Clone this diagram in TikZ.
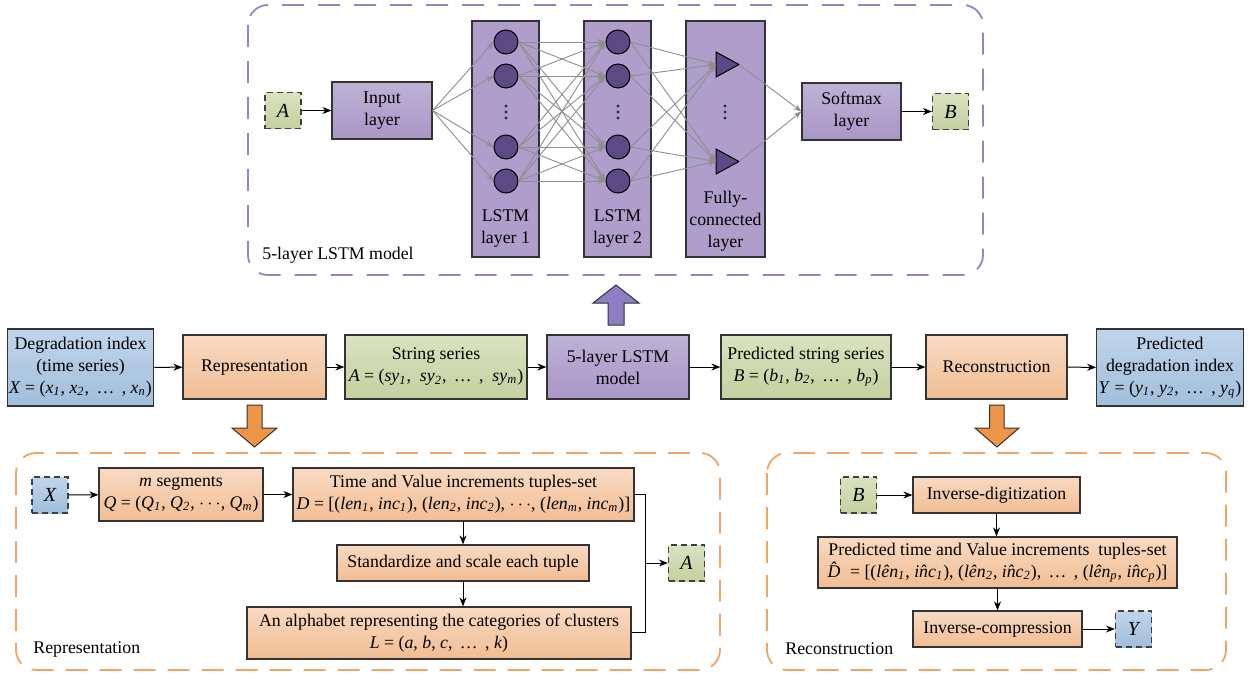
\documentclass[tikz,border=0pt]{standalone}
\usepackage{fontspec}
\setmainfont{Liberation Serif}
\usetikzlibrary{arrows.meta,shapes.geometric}
\newcommand\ssub[1]{\textsubscript{\itshape #1}}
\newcommand\hl{\textit{l\^en}}
\newcommand\hi{\textit{i\^nc}}
\definecolor{pTop}{HTML}{BDB2D6}
\definecolor{pBot}{HTML}{A996C6}
\definecolor{oTop}{HTML}{F9DAC2}
\definecolor{oBot}{HTML}{F1BD93}
\definecolor{gTop}{HTML}{DAE2C0}
\definecolor{gBot}{HTML}{C3D09E}
\definecolor{bTop}{HTML}{C0D5EA}
\definecolor{bBot}{HTML}{A0BEDC}
\definecolor{pDash}{HTML}{9484C2}
\definecolor{oDash}{HTML}{F0A466}
\definecolor{neuron}{HTML}{5C4A86}
\definecolor{netgray}{HTML}{8E8E8E}
\definecolor{bigP}{HTML}{8F7DC4}
\definecolor{bigO}{HTML}{EE9648}
\tikzset{
  box/.style={draw=black!80, line width=0.6pt, inner sep=1pt, align=center, minimum width=#1},
  pbox/.style={box=#1, top color=pTop, bottom color=pBot},
  obox/.style={box=#1, top color=oTop, bottom color=oBot},
  gbox/.style={box=#1, top color=gTop, bottom color=gBot},
  bbox/.style={box=#1, top color=bTop, bottom color=bBot},
  dbox/.style={draw=black!75, line width=0.6pt, dash pattern=on 3pt off 2pt, minimum width=18pt, minimum height=18pt, inner sep=0pt, font=\rmfamily\itshape},
  col/.style={draw=black!80, line width=0.6pt, fill=pBot!70!pTop, minimum width=33.5pt, minimum height=118pt, inner sep=0pt},
  neu/.style={circle, draw=black, line width=0.5pt, fill=neuron, minimum size=12pt, inner sep=0pt},
  trishape/.style={draw=black, line width=0.5pt, fill=neuron, line join=miter},
  dotmark/.style={fill=black!85},
  arr/.style={-{Stealth[length=4.5pt,width=3.5pt]}, line width=0.5pt, black},
  net/.style={-{Stealth[length=4pt,width=3pt]}, line width=0.45pt, netgray},
  pframe/.style={draw=pDash, line width=0.9pt, dash pattern=on 11pt off 7pt, rounded corners=10pt},
  oframe/.style={draw=oDash, line width=0.9pt, dash pattern=on 11pt off 6pt, rounded corners=10pt},
  lbl/.style={anchor=west, inner sep=0pt},
}
\begin{document}
\begin{tikzpicture}[x=0.5pt,y=-0.5pt, font=\rmfamily\fontsize{8.9}{11}\selectfont]
\useasboundingbox (0,0) rectangle (1248,675);
% ---------- top frame ----------
\draw[pframe] (248,5) rectangle (983,275);
\node[lbl] (toplbl) at (262,255) {5-layer LSTM model};
\node[dbox, top color=gTop, bottom color=gBot] (Ain) at (283,110.5) {A};
\node[pbox=50pt, minimum height=28.5pt] (inp) at (382,110.5) {Input\\layer};
\node[col] (c1) at (505.5,139) {};
\node[col] (c2) at (617.5,139) {};
\node[col, minimum width=39.5pt] (c3) at (725.5,139) {};
\node[pbox=49.5pt, minimum height=28.5pt] (soft) at (851.5,111.5) {Softmax\\layer};
\node[dbox, top color=gTop, bottom color=gBot] (Bout) at (950.5,111.5) {B};
\node[align=center] (c1t) at (505.5,228.5) {LSTM\\layer 1};
\node[align=center] (c2t) at (617.5,228.5) {LSTM\\layer 2};
\node[align=center] (c3t) at (725.5,221.5) {Fully-\\connected\\layer};
\foreach \i/\y in {1/42,2/76,3/147,4/181}{
  \node[neu] (a\i) at (506,\y) {};
  \node[neu] (b\i) at (618,\y) {};
}
% vertical ellipses
\foreach \x in {506,618,725}{
  \foreach \y in {106,112,118}{\fill[dotmark] (\x,\y) circle (0.8pt);}
}
% triangles (fully-connected units)
\foreach \j/\y in {1/64.5,2/161.5}{
  \draw[trishape] (716,\y-12.5) -- (739,\y) -- (716,\y+12.5) -- cycle;
  \coordinate (t\j w) at (716,\y);
  \coordinate (t\j a) at (739,\y);
}
\foreach \i in {1,...,4}{\draw[net] (inp.east) -- (a\i.west);}
\foreach \i in {1,...,4}{\foreach \j in {1,...,4}{\draw[net] (a\i.east) -- (b\j.west);}}
\foreach \i in {1,...,4}{\foreach \j in {1,2}{\draw[net] (b\i.east) -- (t\j w);}}
\foreach \j in {1,2}{\draw[net] (t\j a) -- (soft.west);}
\draw[arr] (Ain) -- (inp);
\draw[arr] (soft) -- (Bout);
% ---------- middle row ----------
\node[bbox=71.5pt, minimum height=38.5pt] (deg) at (80.5,367.5) {Degradation index\\(time series)\\\textit{X} = (\textit{x}\ssub{1}, \textit{x}\ssub{2}, \,…\, , \textit{x}\ssub{n})};
\node[obox=71.5pt, minimum height=32pt] (rep) at (254.5,367) {Representation};
\node[gbox=91pt, minimum height=32pt] (str) at (436,367) {String series\\\textit{A} = (\textit{sy}\ssub{1},\ \ \textit{sy}\ssub{2}, \,…\, ,\ \ \textit{sy}\ssub{m})};
\node[pbox=71pt, minimum height=32pt] (lstm) at (618,367) {5-layer LSTM\\model};
\node[gbox=85pt, minimum height=32pt] (pstr) at (806,367) {Predicted string series\\\textit{B} = (\textit{b}\ssub{1}, \textit{b}\ssub{2}, \,…\, , \textit{b}\ssub{p})};
\node[obox=70.5pt, minimum height=32pt] (rec) at (996.5,367) {Reconstruction};
\node[bbox=71pt, minimum height=38.5pt] (pdeg) at (1170,367.5) {Predicted\\degradation index\\\textit{Y} = (\textit{y}\ssub{1}, \textit{y}\ssub{2}, \,…\, , \textit{y}\ssub{q})};
\draw[arr] (deg) -- (rep);
\draw[arr] (rep) -- (str);
\draw[arr] (str) -- (lstm);
\draw[arr] (lstm) -- (pstr);
\draw[arr] (pstr) -- (rec);
\draw[arr] (rec) -- (pdeg);
% block arrows
\draw[fill=bigP, draw=black!80, line width=0.5pt] (608,325) -- (608,303) -- (593,303) -- (616,285) -- (639,303) -- (624,303) -- (624,325) -- cycle;
\draw[fill=bigO, draw=black!80, line width=0.5pt] (247,405) -- (262,405) -- (262,428) -- (277,428) -- (254.5,447) -- (232,428) -- (247,428) -- cycle;
\draw[fill=bigO, draw=black!80, line width=0.5pt] (989.5,405) -- (1004,405) -- (1004,428) -- (1019,428) -- (997,447) -- (975,428) -- (989.5,428) -- cycle;
% ---------- bottom left ----------
\draw[oframe] (16,453) rectangle (720,670);
\node[lbl] (replbl) at (33,649) {Representation};
\node[dbox, top color=bTop, bottom color=bBot] (Xin) at (50,495) {X};
\node[obox=82pt, minimum height=26.5pt] (mseg) at (181,494.5) {\textit{m} segments\\\textit{Q} = (\textit{Q}\ssub{1}, \textit{Q}\ssub{2}, $\cdots$, \textit{Q}\ssub{m})};
\node[obox=170.5pt, minimum height=26.5pt] (tvi) at (463.5,494.5) {Time and Value increments tuples-set\\\textit{D} = [(\textit{len}\ssub{1}, \textit{inc}\ssub{1}), (\textit{len}\ssub{2}, \textit{inc}\ssub{2}), $\cdots$, (\textit{len}\ssub{m}, \textit{inc}\ssub{m})]};
\node[obox=126pt, minimum height=18pt] (std) at (463,563) {Standardize and scale each tuple};
\node[obox=192pt, minimum height=26pt] (alph) at (439,633) {An alphabet representing the categories of clusters\\\textit{L} = (\textit{a}, \textit{b}, \textit{c}, \,…\, , \textit{k})};
\node[dbox, top color=gTop, bottom color=gBot] (Aout) at (686.5,563) {A};
\coordinate (jt) at (645,494.5);
\coordinate (jb) at (645,632);
\coordinate (jm) at (645,563);
\draw[line width=0.5pt] (tvi.east) -- (jt) -- (jb) -- (alph.east |- jb);
\draw[arr] (jm) -- (Aout.west);
\draw[arr] (Xin) -- (mseg);
\draw[arr] (mseg) -- (tvi);
\draw[arr] (tvi.south -| std.north) -- (std.north);
\draw[arr] (std.south) -- (std.south |- alph.north);
% ---------- bottom right ----------
\draw[oframe] (767,453) rectangle (1226,670);
\node[lbl] (reclbl) at (785,649) {Reconstruction};
\node[dbox, top color=gTop, bottom color=gBot] (Bin) at (858.5,495) {B};
\node[obox=83.5pt, minimum height=18pt] (invd) at (996.5,495) {Inverse-digitization};
\node[obox=179.5pt, minimum height=25.5pt] (ptv) at (997.5,562.5) {Predicted time and Value increments\ \ tuples-set\\\textit{\^D}\,= [(\hl\ssub{1}, \hi\ssub{1}), (\hl\ssub{2}, \hi\ssub{2}), \,…\, , (\hl\ssub{p}, \hi\ssub{p})]};
\node[obox=84.5pt, minimum height=18pt] (invc) at (997.5,629) {Inverse-compression};
\node[dbox, top color=bTop, bottom color=bBot] (Yout) at (1133.5,629) {Y};
\draw[arr] (Bin) -- (invd);
\draw[arr] (invd.south) -- (invd.south |- ptv.north);
\draw[arr] (ptv.south -| invc.north) -- (invc.north);
\draw[arr] (invc) -- (Yout);
\end{tikzpicture}
\end{document}
